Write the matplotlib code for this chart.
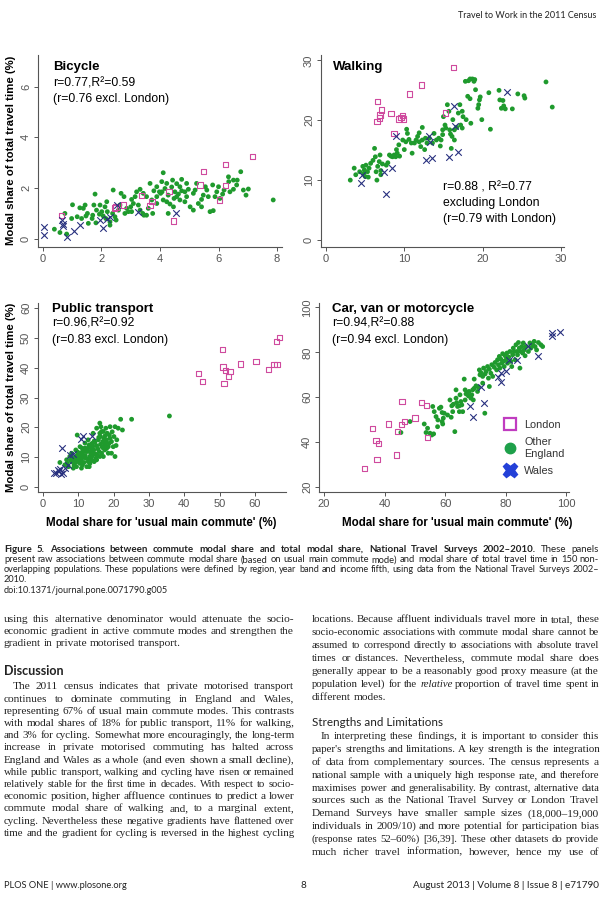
import matplotlib
matplotlib.use('Agg')
import matplotlib.pyplot as plt
from matplotlib.lines import Line2D
import numpy as np

W, H = 612, 906

# ---------------- data (commute share %, total travel time share %) ----------------
bike_london = [(0.64, 0.92), (2.45, 1.22), (2.50, 1.27), (2.76, 1.34), (3.37, 1.72), (3.66, 1.31),
               (3.73, 1.47), (4.31, 1.88), (4.46, 0.71), (5.37, 2.13), (5.48, 2.65), (6.03, 1.54),
               (6.23, 2.10), (6.23, 2.94), (7.16, 3.25)]
bike_wales = [(0.05, 0.49), (0.02, 0.16), (0.64, 0.75), (0.70, 0.58), (0.70, 0.51), (0.81, 0.09),
              (1.06, 0.31), (1.26, 0.55), (1.95, 0.75), (2.06, 0.42), (2.29, 0.88), (2.52, 1.34),
              (3.24, 1.08), (4.55, 1.01), (2.20, 0.80)]
bike_other = [(0.39, 0.39), (0.58, 0.26), (0.75, 1.01), (0.81, 0.20), (1.01, 1.35), (1.17, 0.88),
              (1.26, 1.23), (1.38, 1.21), (1.47, 0.91), (1.52, 1.01), (1.70, 0.94), (1.78, 1.77),
              (1.74, 1.34), (1.83, 1.14), (1.93, 0.98), (2.01, 1.08), (2.12, 1.27), (2.15, 0.81),
              (2.20, 1.08), (2.29, 0.55), (2.38, 1.01), (2.40, 1.93), (2.46, 0.88), (2.58, 1.14),
              (2.67, 1.80), (2.80, 1.01), (2.92, 1.08), (3.00, 1.27), (3.03, 1.56), (3.09, 1.40),
              (3.15, 1.67), (3.26, 1.34), (3.32, 1.96), (3.41, 1.01), (3.45, 0.94), (3.54, 1.67),
              (3.60, 1.21), (3.75, 1.01), (3.79, 1.90), (3.89, 1.67), (3.98, 1.86), (4.02, 1.80),
              (4.07, 1.86), (4.11, 2.61), (4.17, 1.99), (4.23, 1.47), (4.28, 1.73), (4.34, 1.38),
              (4.40, 2.05), (4.43, 2.32), (4.48, 1.60), (4.51, 1.86), (4.57, 2.18), (4.63, 1.77),
              (4.68, 2.06), (4.74, 2.35), (4.74, 1.90), (4.91, 1.67), (4.97, 1.96), (5.03, 1.27),
              (5.14, 1.14), (5.20, 1.93), (5.25, 2.19), (5.42, 1.56), (5.48, 1.73), (5.60, 1.93),
              (5.71, 1.08), (5.80, 2.13), (5.82, 1.12), (5.94, 1.86), (6.00, 2.06), (6.14, 1.77),
              (6.19, 1.93), (6.34, 2.45), (6.35, 2.26), (6.51, 1.96), (6.64, 2.32), (6.76, 2.65),
              (6.85, 1.93), (6.94, 1.73), (7.02, 1.97), (7.87, 1.54), (2.63, 1.34), (2.77, 1.67),
              (3.03, 1.08), (3.43, 1.80), (3.72, 1.54), (3.89, 1.40), (4.11, 1.54), (1.32, 0.81),
              (1.55, 0.62), (1.95, 1.34), (0.98, 0.81), (2.29, 0.68), (2.06, 0.91), (2.50, 0.75),
              (3.32, 1.14), (3.54, 0.94), (5.14, 1.80), (5.31, 1.40), (5.55, 2.06), (4.46, 1.27),
              (4.28, 1.01), (3.89, 2.06), (4.06, 2.26), (4.68, 1.54), (4.91, 2.19), (6.05, 1.60),
              (6.39, 1.86), (6.62, 2.13), (1.68, 0.81), (1.81, 0.64), (3.20, 1.86), (2.86, 1.21),
              (4.57, 1.67), (4.85, 1.86), (5.42, 1.27), (5.65, 1.67), (5.88, 1.67), (6.51, 2.32),
              (1.44, 1.34), (2.18, 1.47), (3.66, 2.19), (4.23, 2.19), (4.85, 1.47)]

walk_london = [(16.3, 28.8), (12.2, 25.9), (10.7, 24.4), (6.6, 23.1), (7.1, 21.7), (6.9, 20.9),
               (6.8, 20.4), (6.5, 19.8), (8.3, 21.1), (9.3, 20.2), (9.8, 20.8), (9.9, 20.2),
               (9.6, 20.5), (15.3, 21.2), (8.7, 17.8)]
walk_wales = [(23.1, 24.8), (16.3, 22.3), (16.5, 19.1), (8.9, 17.3), (13.1, 17.4), (13.3, 16.4),
              (12.8, 13.4), (13.5, 13.7), (15.7, 13.9), (16.9, 14.7), (8.4, 12.1), (7.4, 11.3),
              (4.6, 10.9), (4.5, 9.5), (7.7, 7.7)]
walk_other = [(3.1, 10.0), (3.6, 12.0), (3.8, 10.9), (4.3, 11.4), (4.7, 12.3), (4.9, 11.7), (5.1, 12.5),
              (5.3, 11.4), (5.5, 12.0), (5.0, 10.6), (5.7, 12.8), (6.2, 15.3), (6.3, 13.9), (6.4, 11.4),
              (6.5, 10.0), (6.6, 12.3), (6.8, 13.1), (6.9, 14.2), (7.0, 10.9), (7.2, 12.7), (7.7, 12.5),
              (8.1, 14.2), (8.3, 14.0), (8.5, 13.9), (8.7, 14.2), (8.9, 13.9), (9.1, 14.5), (9.3, 15.9),
              (9.4, 14.0), (9.8, 16.7), (10.0, 15.1), (10.2, 16.4), (10.4, 17.8), (10.6, 16.8),
              (10.9, 16.2), (11.0, 14.5), (11.3, 16.2), (11.5, 16.7), (11.7, 17.3), (11.9, 16.4),
              (12.1, 15.6), (12.3, 18.8), (12.3, 16.7), (12.6, 15.1), (12.7, 17.0), (12.9, 16.2),
              (13.2, 17.0), (13.8, 17.8), (14.1, 16.7), (14.4, 17.0), (14.7, 16.7), (14.9, 18.4),
              (15.0, 20.6), (15.2, 19.2), (15.3, 18.7), (15.5, 22.6), (15.7, 21.5), (15.8, 18.4),
              (15.9, 17.7), (16.0, 15.3), (16.1, 17.3), (16.2, 20.1), (16.4, 16.7), (16.7, 18.8),
              (16.9, 21.2), (17.2, 19.2), (17.4, 21.5), (17.5, 20.6), (17.8, 26.5), (17.9, 20.1),
              (18.1, 24.0), (18.2, 26.6), (18.4, 23.6), (18.5, 19.5), (18.7, 26.9), (18.9, 26.5),
              (19.0, 26.8), (19.1, 25.1), (19.4, 22.0), (19.5, 22.6), (19.6, 23.4), (19.7, 23.9),
              (19.9, 20.1), (20.8, 24.6), (21.0, 18.5), (22.1, 25.0), (22.2, 23.4), (22.4, 22.0),
              (22.6, 23.3), (22.7, 22.4), (22.9, 21.9), (23.8, 21.9), (24.5, 24.4), (25.3, 24.1),
              (25.4, 23.7), (28.1, 26.4), (28.9, 22.2), (4.8, 11.1), (5.4, 10.5), (6.0, 13.3),
              (7.0, 11.6), (7.9, 12.9), (9.0, 15.1), (10.3, 18.5), (11.9, 17.9), (13.6, 16.2),
              (14.6, 15.7), (14.9, 17.6), (16.4, 18.4), (17.1, 22.6), (17.4, 18.7), (18.4, 26.9)]

pt_london = [(66.9, 50.2), (66.1, 48.8), (50.8, 46.2), (44.0, 38.1), (45.2, 35.3), (51.0, 40.2),
             (51.6, 39.0), (52.9, 38.7), (52.5, 37.0), (51.2, 34.8), (55.9, 41.2), (60.3, 42.1),
             (63.9, 39.3), (65.4, 41.1), (66.3, 41.1)]
pt_wales = [(5.3, 13.0), (11.2, 17.1), (13.8, 17.2), (10.9, 16.0), (7.6, 10.7), (8.4, 11.1),
            (3.0, 4.8), (3.8, 4.6), (4.5, 5.2), (5.0, 4.3), (5.6, 4.8), (4.2, 5.8), (6.3, 6.5),
            (7.0, 7.3), (4.8, 6.0)]
pt_other = [(4.8, 8.2), (6.2, 7.4), (7.2, 6.8), (8.1, 8.5), (8.6, 6.3), (9.1, 9.1), (9.5, 10.4),
            (9.7, 17.4), (10.0, 8.5), (10.3, 11.3), (10.5, 7.9), (10.7, 10.0), (10.9, 9.1), (11.4, 10.7),
            (11.6, 8.2), (11.9, 13.0), (12.2, 9.6), (12.5, 11.9), (12.8, 8.5), (13.1, 14.1), (13.3, 10.2),
            (13.5, 11.3), (13.8, 9.1), (14.1, 13.6), (14.2, 11.3), (14.4, 12.4), (14.7, 14.9), (15.0, 9.6),
            (15.2, 13.8), (15.4, 10.7), (15.7, 15.8), (15.9, 11.9), (16.1, 21.4), (16.3, 16.9),
            (16.4, 20.2), (16.6, 18.6), (16.7, 13.5), (16.9, 15.2), (17.1, 10.2), (17.3, 16.3),
            (17.5, 14.1), (17.8, 19.7), (18.0, 15.8), (18.2, 18.0), (18.5, 11.3), (18.8, 17.4),
            (19.0, 20.2), (19.4, 15.2), (19.9, 13.5), (20.1, 16.9), (20.4, 20.2), (20.4, 10.2),
            (20.7, 13.9), (21.3, 19.7), (22.0, 22.7), (22.5, 19.1), (25.1, 22.7), (35.8, 23.8),
            (6.7, 9.1), (7.6, 10.2), (8.8, 7.4), (9.3, 12.4), (11.2, 7.4), (12.4, 6.8), (13.3, 7.9),
            (14.5, 8.5), (15.2, 9.1), (16.1, 10.2), (16.6, 11.3), (17.5, 12.4), (18.5, 13.5),
            (19.4, 11.3), (10.5, 13.5), (11.9, 14.7), (12.8, 15.8), (14.2, 18.0), (15.2, 19.7),
            (16.1, 18.0), (17.1, 18.6), (9.5, 6.8), (10.9, 6.3), (12.2, 11.9), (13.8, 13.0),
            (13.1, 6.8), (8.1, 11.3), (19.0, 16.3), (20.9, 15.8), (18.0, 12.9), (8.9, 9.8), (9.9, 9.4),
            (10.2, 10.6), (11.0, 11.6), (11.7, 9.9), (12.0, 10.5), (12.6, 12.6), (13.0, 9.4),
            (13.6, 12.0), (14.0, 10.4), (14.8, 11.1), (15.5, 12.8), (16.3, 14.3), (17.0, 13.1),
            (17.8, 14.9), (6.9, 8.0), (7.9, 9.0), (9.2, 8.2), (10.4, 9.0), (11.5, 12.2), (12.9, 13.4),
            (14.5, 15.4), (15.8, 16.6), (17.6, 17.2), (18.7, 14.6), (19.6, 18.5), (13.9, 14.6),
            (11.1, 13.0), (9.8, 11.7), (8.4, 9.6)]

car_london = [(33.3, 28.3), (36.1, 46.2), (37.2, 40.7), (37.9, 39.5), (37.5, 32.4), (41.2, 48.1),
              (44.0, 34.3), (44.2, 44.7), (45.7, 58.1), (45.6, 48.0), (46.5, 49.2), (50.1, 50.7),
              (52.1, 57.6), (53.9, 56.2), (54.1, 42.0)]
car_wales = [(97.9, 89.2), (95.2, 88.6), (95.2, 87.4), (87.2, 82.9), (90.7, 78.2), (83.6, 76.7),
             (81.2, 76.7), (80.1, 71.5), (78.4, 70.7), (78.4, 67.0), (72.0, 64.8), (72.9, 57.4),
             (68.3, 56.2), (69.3, 51.4), (77.3, 69.2)]
car_other = [(45.4, 44.3), (48.4, 49.2), (53.1, 48.1), (53.7, 44.3), (54.2, 46.2), (55.0, 44.0),
             (55.6, 43.2), (56.2, 43.7), (55.9, 55.9), (56.4, 53.6), (57.0, 51.4), (57.6, 49.9),
             (58.1, 55.1), (58.6, 55.6), (59.0, 53.2), (59.2, 48.1), (59.4, 50.7), (59.7, 52.9),
             (61.6, 58.8), (62.0, 51.1), (62.2, 56.2), (62.7, 56.9), (63.2, 44.7), (63.6, 59.6),
             (63.8, 57.6), (64.1, 55.9), (64.7, 56.2), (65.2, 58.1), (65.5, 56.6), (66.3, 68.1),
             (66.6, 63.3), (66.9, 61.5), (67.4, 62.1), (67.7, 60.6), (67.9, 62.6), (68.5, 59.6),
             (68.8, 61.1), (69.3, 58.8), (69.6, 64.0), (70.2, 65.1), (70.7, 62.6), (71.0, 64.5),
             (71.3, 72.2), (71.5, 70.0), (71.8, 71.0), (72.4, 69.3), (72.7, 73.0), (73.1, 52.9),
             (73.2, 70.4), (73.5, 71.5), (74.0, 73.7), (74.3, 68.5), (74.6, 72.5), (75.1, 70.7),
             (75.4, 74.5), (75.7, 69.3), (76.2, 73.4), (76.5, 75.5), (77.0, 72.2), (77.3, 76.7),
             (77.6, 74.5), (77.9, 78.2), (78.1, 73.0), (78.4, 77.0), (78.7, 75.2), (79.0, 79.4),
             (79.2, 76.0), (79.5, 73.7), (79.8, 78.5), (80.1, 76.7), (80.4, 79.7), (80.6, 75.2),
             (81.0, 77.9), (81.4, 80.4), (81.7, 76.0), (82.0, 73.7), (82.3, 78.9), (82.5, 81.9),
             (82.8, 80.4), (83.1, 76.7), (83.4, 83.4), (83.7, 80.4), (83.9, 78.9), (84.2, 84.4),
             (84.5, 81.9), (84.7, 73.0), (85.0, 80.4), (85.3, 82.6), (85.6, 79.7), (85.8, 84.2),
             (86.1, 81.1), (86.4, 78.5), (86.7, 82.6), (87.5, 80.4), (88.0, 84.2), (88.3, 81.9),
             (88.9, 83.4), (89.4, 84.9), (89.7, 82.6), (90.2, 81.1), (90.8, 84.4), (91.6, 83.4),
             (92.2, 82.6), (57.5, 46.9), (59.0, 49.2), (60.8, 52.1), (62.5, 53.6), (64.7, 53.6),
             (65.8, 53.6), (66.6, 58.8), (64.9, 61.1), (63.6, 63.3), (69.1, 63.3), (72.4, 66.3),
             (69.6, 68.1), (74.6, 64.8)]

titles = ['Bicycle', 'Walking', 'Public transport', 'Car, van or motorcycle']
stats = [['r=0.77,R\u00b2=0.59', '(r=0.76 excl. London)'],
         ['r=0.88 , R\u00b2=0.77', 'excluding London', '(r=0.79 with London)'],
         ['r=0.96,R\u00b2=0.92', '(r=0.83 excl. London)'],
         ['r=0.94,R\u00b2=0.88', '(r=0.94 excl. London)']]
xticks = [[0, 2, 4, 6, 8], [0, 10, 20, 30], [0, 10, 20, 30, 40, 50, 60], [20, 40, 60, 80, 100]]
yticks = [[0, 2, 4, 6], [0, 10, 20, 30], [0, 10, 20, 30, 40, 50, 60], [20, 40, 60, 80, 100]]
legend_labels = ['London', 'Other\nEngland', 'Wales']

GREEN = '#1f9a2d'
PINK = '#cf4a9e'
NAVY = '#27307e'

plt.rcParams['font.family'] = 'Liberation Sans'
fig = plt.figure(figsize=(W / 100, H / 100), dpi=100)
fig.patch.set_facecolor('white')
renderer = fig.canvas.get_renderer()


def fx(x):
    return x / W


def fy(y):
    return 1 - y / H


def add_axes(l, t, r, b):
    return fig.add_axes([fx(l), fy(b), (r - l) / W, (b - t) / H])


def ptext(x, y, s, **kw):
    kw.setdefault('va', 'center')
    return fig.text(fx(x), fy(y), s, **kw)


# ---------------- panels ----------------
boxes = [(38, 55, 282, 247), (321, 55, 564, 247), (38, 303, 286, 492), (319, 303, 569, 492)]
xlims = [(-0.17, 8.17), (-0.64, 30.4), (-1.4, 68.8), (18.35, 100.9)]
ylims = [(-0.31, 7.24), (-1.17, 30.9), (-1.7, 61.7), (17.8, 102.0)]
groups = [(bike_other, bike_london, bike_wales), (walk_other, walk_london, walk_wales),
          (pt_other, pt_london, pt_wales), (car_other, car_london, car_wales)]

axes = []
for i, (box, grp) in enumerate(zip(boxes, groups)):
    ax = add_axes(*box)
    other, london, wales = [np.array(g) for g in grp]
    ax.scatter(other[:, 0], other[:, 1], s=12, c=GREEN, edgecolors='none', zorder=2)
    ax.scatter(london[:, 0], london[:, 1], s=15, marker='s', facecolors='none',
               edgecolors=PINK, linewidths=0.8, zorder=3)
    ax.scatter(wales[:, 0], wales[:, 1], s=22, marker='x', c=NAVY, linewidths=0.8, zorder=4)
    ax.set_xlim(*xlims[i])
    ax.set_ylim(*ylims[i])
    ax.set_xticks(xticks[i])
    ax.set_yticks(yticks[i])
    for s in ['top', 'right']:
        ax.spines[s].set_visible(False)
    for s in ['left', 'bottom']:
        ax.spines[s].set_color('#555555')
        ax.spines[s].set_linewidth(0.8)
    ax.tick_params(colors='#555555', labelcolor='#555555', length=3, width=0.7,
                   labelsize=8, pad=2)
    plt.setp(ax.get_yticklabels(), rotation=90, va='center')
    axes.append(ax)

# panel texts (page pixel positions)
title_pos = [(53, 67), (333, 67), (52, 309), (332, 309)]
stat_pos = [(53, [83, 99]), (443, [187, 203, 219]), (52, [324, 340]), (332, [324, 340])]
for i in range(4):
    ptext(*title_pos[i], titles[i], fontsize=9.5, fontweight='bold')
    sx, sys_ = stat_pos[i]
    for s, yy in zip(stats[i], sys_):
        ptext(sx, yy, s, fontsize=8.8)

for yc in [150, 397]:
    ptext(11, yc, 'Modal share of total travel time (%)', fontsize=8.2, fontweight='bold',
          rotation=90, ha='center')
for xc in [161, 457]:
    ptext(xc, 523, "Modal share for 'usual main commute' (%)", fontsize=8.3,
          fontweight='bold', ha='center')

handles = [Line2D([], [], ls='', marker='s', mfc='none', mec='#c03cc0', mew=1.6, ms=9),
           Line2D([], [], ls='', marker='o', mfc='#1ea04a', mec='#1ea04a', ms=7.5),
           Line2D([], [], ls='', marker='X', mfc='#2340d8', mec='#2340d8', ms=10.5)]
leg = axes[3].legend(handles, legend_labels, loc='lower right', bbox_to_anchor=(1.0, 0.062),
                     frameon=False, fontsize=7.8, handlelength=1.0, handletextpad=0.8,
                     labelspacing=0.68, borderaxespad=0)
for t in leg.get_texts():
    t.set_color('#333333')


# ---------------- page text ----------------
def text_line(spans, x0, y, x1=None, size=8.2, family='Liberation Serif', color='#222222'):
    # words sit on a common baseline; y is the middle of the x-height
    base = y + size * 0.3
    words = [(w, kw) for s, kw in spans for w in s.split()]
    arts, widths = [], []
    for w, kw in words:
        t = fig.text(fx(x0), fy(base), w, fontsize=size, family=family, color=color,
                     ha='left', va='baseline', **kw)
        widths.append(t.get_window_extent(renderer).width)
        arts.append(t)
    space = size * 0.25 * 100 / 72
    natural = sum(widths) + space * (len(words) - 1)
    if x1 is not None and natural > x1 - x0:
        scale = (x1 - x0 - space * (len(words) - 1)) / sum(widths) * 0.99
        for t in arts:
            t.set_fontsize(size * scale)
        widths = [w * scale for w in widths]
    if x1 is not None and len(words) > 1:
        space = (x1 - x0 - sum(widths)) / (len(words) - 1)
    x = x0
    for t, w in zip(arts, widths):
        t.set_x(fx(x))
        x += w + space


def fit_text(s, x0, x1, y, family='Lato', color='#222222', **kw):
    t = ptext(x0, y, s, fontsize=10, family=family, color=color, ha='left', **kw)
    w = t.get_window_extent(renderer).width
    t.set_fontsize(10 * (x1 - x0) / w)
    return t


N = {}
B = {'fontweight': 'bold'}
I = {'fontstyle': 'italic'}

fit_text('Travel to Work in the 2011 Census', 458, 598, 16)

cap = dict(size=7.0, family='Lato', color='#222222')
text_line([('Figure 5. Associations between commute modal share and total modal share, '
            'National Travel Surveys 2002\u20132010.', B), ('These panels', N)], 4, 550, 599, **cap)
text_line([('present raw associations between commute modal share (based on usual main commute '
            'mode) and modal share of total travel time in 150 non-', N)], 4, 560, 599, **cap)
text_line([('overlapping populations. These populations were defined by region, year band and '
            'income fifth, using data from the National Travel Surveys 2002\u2013', N)], 4, 570, 599, **cap)
text_line([('2010.', N)], 4, 580, size=6.6, family='Lato')
text_line([('doi:10.1371/journal.pone.0071790.g005', N)], 4, 591, size=6.6, family='Lato')

left_top = ['using this alternative denominator would attenuate the socio-',
            'economic gradient in active commute modes and strengthen the',
            'gradient in private motorised transport.']
left_par = ['The 2011 census indicates that private motorised transport',
            'continues to dominate commuting in England and Wales,',
            'representing 67% of usual main commute modes. This contrasts',
            'with modal shares of 18% for public transport, 11% for walking,',
            'and 3% for cycling. Somewhat more encouragingly, the long-term',
            'increase in private motorised commuting has halted across',
            'England and Wales as a whole (and even shown a small decline),',
            'while public transport, walking and cycling have risen or remained',
            'relatively stable for the first time in decades. With respect to socio-',
            'economic position, higher affluence continues to predict a lower',
            'commute modal share of walking and, to a marginal extent,',
            'cycling. Nevertheless these negative gradients have flattened over',
            'time and the gradient for cycling is reversed in the highest cycling']
right_top = [[('locations. Because affluent individuals travel more in total, these', N)],
             [('socio-economic associations with commute modal share cannot be', N)],
             [('assumed to correspond directly to associations with absolute travel', N)],
             [('times or distances. Nevertheless, commute modal share does', N)],
             [('generally appear to be a reasonably good proxy measure (at the', N)],
             [('population level) for the', N), ('relative', I),
              ('proportion of travel time spent in', N)],
             [('different modes.', N)]]
right_par = ['In interpreting these findings, it is important to consider this',
             "paper's strengths and limitations. A key strength is the integration",
             'of data from complementary sources. The census represents a',
             'national sample with a uniquely high response rate, and therefore',
             'maximises power and generalisability. By contrast, alternative data',
             'sources such as the National Travel Survey or London Travel',
             'Demand Surveys have smaller sample sizes (18,000\u201319,000',
             'individuals in 2009/10) and more potential for participation bias',
             '(response rates 52\u201360%) [36,39]. These other datasets do provide',
             'much richer travel information, however, hence my use of']

LX0, LX1, RX0, RX1 = 4, 294, 312, 599
for k, line in enumerate(left_top):
    text_line([(line, N)], LX0, 620 + k * 12, LX1 if k < 2 else None)
fit_text('Discussion', LX0, 64, 671, fontweight='bold')
for k, line in enumerate(left_par):
    text_line([(line, N)], LX0 + (9 if k == 0 else 0), 687 + k * 12.2, LX1)

for k, spans in enumerate(right_top):
    text_line(spans, RX0, 620 + k * 12.9, RX1 if k < 6 else None)
fit_text('Strengths and Limitations', RX0, 442, 722)
for k, line in enumerate(right_par):
    text_line([(line, N)], RX0 + (9 if k == 0 else 0), 737 + k * 12.8, RX1)

fit_text('PLOS ONE | www.plosone.org', 4, 127, 886)
ptext(303, 886, '8', fontsize=7.2, family='Lato', color='#222222', ha='center')
fit_text('August 2013 | Volume 8 | Issue 8 | e71790', 413, 599, 886)

fig.savefig('out.png', dpi=100, facecolor='white')
